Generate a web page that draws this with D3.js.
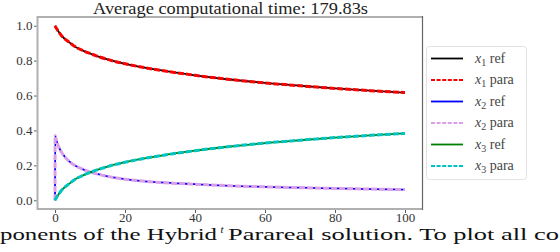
<!DOCTYPE html>
<html>
<head>
<meta charset="utf-8">
<script src="https://cdn.jsdelivr.net/npm/d3@7"></script>
<style>
  body { margin: 0; background: #fff; }
  svg { display: block; }
</style>
</head>
<body>
<div class="chart"></div>
<script>
// time points and the three components (x2 is scaled by 1e4)
const times = [0, 0.05, 0.4, 1, 2, 4, 6, 8, 10, 12, 15, 20, 25, 30, 40, 50, 60, 70, 80, 90, 100]
const x1Ref = [1.0, 0.998, 0.985, 0.967, 0.940, 0.906, 0.877, 0.857, 0.841, 0.826, 0.807, 0.782, 0.762, 0.745, 0.716, 0.692, 0.672, 0.656, 0.641, 0.628, 0.617]
const x2Ref = [0, 0.37, 0.342, 0.309, 0.271, 0.224, 0.196, 0.177, 0.162, 0.151, 0.137, 0.121, 0.110, 0.102, 0.092, 0.083, 0.077, 0.072, 0.068, 0.064, 0.0615]
const x3Ref = [0, 0.002, 0.015, 0.033, 0.060, 0.094, 0.123, 0.143, 0.159, 0.174, 0.193, 0.218, 0.238, 0.255, 0.284, 0.308, 0.328, 0.344, 0.359, 0.372, 0.383]
// parareal result lies on top of the reference
const x1Para = [1.0, 0.998, 0.985, 0.967, 0.940, 0.906, 0.877, 0.857, 0.841, 0.826, 0.807, 0.782, 0.762, 0.745, 0.716, 0.692, 0.672, 0.656, 0.641, 0.628, 0.617]
const x2Para = [0, 0.37, 0.342, 0.309, 0.271, 0.224, 0.196, 0.177, 0.162, 0.151, 0.137, 0.121, 0.110, 0.102, 0.092, 0.083, 0.077, 0.072, 0.068, 0.064, 0.0615]
const x3Para = [0, 0.002, 0.015, 0.033, 0.060, 0.094, 0.123, 0.143, 0.159, 0.174, 0.193, 0.218, 0.238, 0.255, 0.284, 0.308, 0.328, 0.344, 0.359, 0.372, 0.383]

const xTicks = [0, 20, 40, 60, 80, 100]
const yTicks = [0.0, 0.2, 0.4, 0.6, 0.8, 1.0]
const titleText = 'Average computational time: 179.83s'

const series = [
  {sub: '1', kind: 'ref', values: x1Ref, color: '#000000', dashed: false},
  {sub: '1', kind: 'para', values: x1Para, color: '#ff0000', dashed: true},
  {sub: '2', kind: 'ref', values: x2Ref, color: '#0000ff', dashed: false},
  {sub: '2', kind: 'para', values: x2Para, color: '#dc9ee6', dashed: true},
  {sub: '3', kind: 'ref', values: x3Ref, color: '#008000', dashed: false},
  {sub: '3', kind: 'para', values: x3Para, color: '#00c4c4', dashed: true}
]

const serif = '"Liberation Serif", "Times New Roman", "DejaVu Serif", serif'
const w = 560, h = 252
const axLeft = 37.5, axRight = 422.5, axTop = 17, axBottom = 209

const svg = d3.select('.chart').append('svg')
    .attr('width', w)
    .attr('height', h)

svg.append('rect').attr('width', w).attr('height', h).attr('fill', '#fff')

const x = d3.scaleLinear().domain([-5, 105]).range([axLeft, axRight])
const y = d3.scaleLinear().domain([-0.05, 1.05]).range([axBottom, axTop])

// lines
const line = d3.line().x((d, i) => x(times[i])).y(d => y(d)).curve(d3.curveMonotoneX)

series.forEach(s => {
  svg.append('path')
     .attr('d', line(s.values))
     .attr('fill', 'none')
     .attr('stroke', s.color)
     .attr('stroke-width', s.dashed ? 3 : 1.8)
     .attr('stroke-dasharray', s.dashed ? '6,2' : null)
})

// spines
svg.append('line').attr('x1', axLeft).attr('x2', axLeft).attr('y1', axTop - 1).attr('y2', axBottom + 1)
   .attr('stroke', '#b0b0b0').attr('stroke-width', 2)
svg.append('line').attr('x1', axLeft).attr('x2', axRight).attr('y1', axBottom).attr('y2', axBottom)
   .attr('stroke', '#b0b0b0').attr('stroke-width', 2)
svg.append('line').attr('x1', axLeft).attr('x2', axRight).attr('y1', axTop).attr('y2', axTop)
   .attr('stroke', '#b0b0b0').attr('stroke-width', 2)
svg.append('line').attr('x1', axRight).attr('x2', axRight).attr('y1', axTop - 1).attr('y2', axBottom + 1)
   .attr('stroke', '#666').attr('stroke-width', 1.2)

// axes
const xAxis = svg.append('g')
    .attr('transform', `translate(0,${axBottom + 1})`)
    .call(d3.axisBottom(x).tickValues(xTicks).tickSize(3).tickPadding(0).tickFormat(d3.format('d')))
const yAxis = svg.append('g')
    .attr('transform', `translate(${axLeft - 1},0)`)
    .call(d3.axisLeft(y).tickValues(yTicks).tickSize(2.5).tickPadding(1.5).tickFormat(d3.format('.1f')))

;[xAxis, yAxis].forEach(a => {
  a.select('.domain').remove()
  a.attr('font-family', null).attr('font-size', null)
  a.selectAll('line').attr('stroke', '#333').attr('stroke-width', 0.8)
  a.selectAll('text').attr('fill', '#333').style('font-size', '13px')
})

// title
svg.append('text')
   .attr('x', 93).attr('y', 13.5)
   .attr('textLength', 275).attr('lengthAdjust', 'spacingAndGlyphs')
   .attr('fill', '#222').style('font-size', '16px')
   .text(titleText)

// legend
const legend = svg.append('g').attr('id', 'legend')
legend.append('rect')
   .attr('x', 426.5).attr('y', 46.5).attr('width', 100).attr('height', 133)
   .attr('rx', 3).attr('fill', '#fff').attr('stroke', '#e2e2e2').attr('stroke-width', 1)

const ly = d3.scaleLinear().domain([0, 5]).range([58.5, 166])
series.forEach((s, i) => {
  legend.append('line')
     .attr('x1', 431).attr('x2', 463).attr('y1', ly(i)).attr('y2', ly(i))
     .attr('stroke', s.color).attr('stroke-width', 1.8)
     .attr('stroke-dasharray', s.dashed ? '4,1.6' : null)
  const t = legend.append('text')
     .attr('x', 475).attr('y', ly(i) + 4)
     .attr('fill', '#444').style('font-size', '14px')
  t.append('tspan').style('font-style', 'italic').text('x')
  t.append('tspan').attr('dy', 3).style('font-size', '10px').text(s.sub)
  t.append('tspan').attr('dy', -3).text(' ' + s.kind)
})

// caption text of the page below the figure
svg.append('text')
   .attr('x', 0).attr('y', 240)
   .attr('textLength', 217).attr('lengthAdjust', 'spacingAndGlyphs')
   .attr('fill', '#111').style('font-size', '17px')
   .text('ponents of the Hybrid')
svg.append('text')
   .attr('x', 220.5).attr('y', 233)
   .attr('fill', '#111').style('font-size', '11px').style('font-style', 'italic')
   .text('t')
svg.append('text')
   .attr('x', 228).attr('y', 240)
   .attr('textLength', 331).attr('lengthAdjust', 'spacingAndGlyphs')
   .attr('fill', '#111').style('font-size', '17px')
   .text('Parareal solution. To plot all co')

svg.selectAll('text').style('font-family', serif)
</script>
</body>
</html>
